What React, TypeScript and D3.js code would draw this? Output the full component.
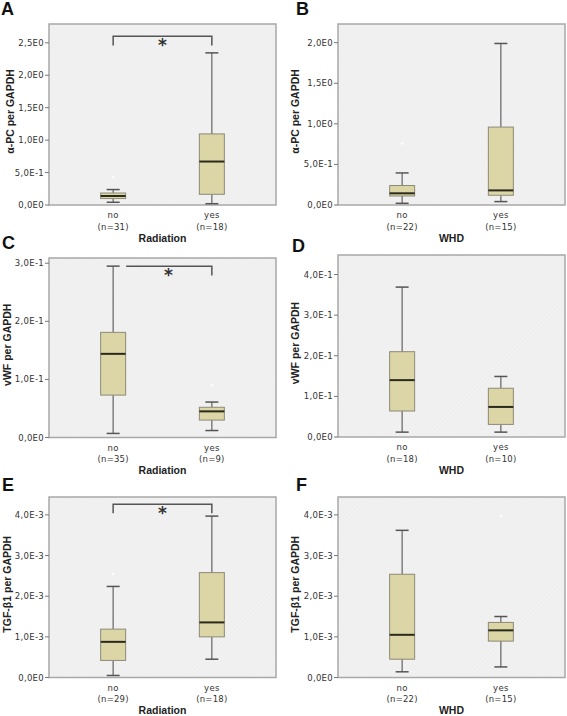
import React from "react";
import * as d3 from "d3";

// ---------- DATA ----------
const groups = ["no", "yes"];

// box stats: [lowWhisker, Q1, median, Q3, highWhisker]
const aNo = [0.042, 0.099, 0.139, 0.185, 0.238];
const aYes = [0.02, 0.165, 0.67, 1.096, 2.345];
const aOutliers = [[0, 0.43]];
const aN = [31, 18];
const aTicks = [0, 0.5, 1.0, 1.5, 2.0, 2.5];
const aTickLabels = ["0,0E0", "5,0E-1", "1,0E0", "1,5E0", "2,0E0", "2,5E0"];

const bNo = [0.021, 0.111, 0.144, 0.24, 0.395];
const bYes = [0.042, 0.12, 0.18, 0.96, 1.99];
const bOutliers = [[0, 0.76]];
const bN = [22, 15];
const bTicks = [0, 0.5, 1.0, 1.5, 2.0];
const bTickLabels = ["0,0E0", "5,0E-1", "1,0E0", "1,5E0", "2,0E0"];

const cNo = [0.007, 0.073, 0.144, 0.181, 0.295];
const cYes = [0.012, 0.03, 0.045, 0.052, 0.061];
const cOutliers = [[1, 0.09]];
const cN = [35, 9];
const cTicks = [0, 0.1, 0.2, 0.3];
const cTickLabels = ["0,0E0", "1,0E-1", "2,0E-1", "3,0E-1"];

const dNo = [0.012, 0.064, 0.14, 0.21, 0.369];
const dYes = [0.012, 0.031, 0.074, 0.12, 0.149];
const dOutliers: number[][] = [];
const dN = [18, 10];
const dTicks = [0, 0.1, 0.2, 0.3, 0.4];
const dTickLabels = ["0,0E0", "1,0E-1", "2,0E-1", "3,0E-1", "4,0E-1"];

const eNo = [0.05, 0.42, 0.877, 1.19, 2.24];
const eYes = [0.45, 1.0, 1.355, 2.58, 3.97];
const eOutliers = [[0, 2.55]];
const eN = [29, 18];
const eTicks = [0, 1, 2, 3, 4];
const eTickLabels = ["0,0E0", "1,0E-3", "2,0E-3", "3,0E-3", "4,0E-3"];

const fNo = [0.14, 0.45, 1.05, 2.54, 3.62];
const fYes = [0.26, 0.895, 1.16, 1.355, 1.5];
const fOutliers = [[1, 3.98]];
const fN = [22, 15];
const fTicks = [0, 1, 2, 3, 4];
const fTickLabels = ["0,0E0", "1,0E-3", "2,0E-3", "3,0E-3", "4,0E-3"];

const letters = ["A", "B", "C", "D", "E", "F"];
const yTitles = ["α-PC per GAPDH", "α-PC per GAPDH", "vWF per GAPDH", "vWF per GAPDH", "TGF-β1 per GAPDH", "TGF-β1 per GAPDH"];
const xTitles = ["Radiation", "WHD", "Radiation", "WHD", "Radiation", "WHD"];

// significance brackets
const brackets = [
  { top: 2.6, tip: 2.46, leftTip: true },
  null,
  { top: 0.295, tip: 0.279, leftTip: false },
  null,
  { top: 4.26, tip: 4.04, leftTip: true },
  null,
];

// ---------- LAYOUT ----------
const frames = [
  { x0: 49, x1: 276, y0: 24, y1: 205, yMax: 2.79 },
  { x0: 338, x1: 565, y0: 24, y1: 205, yMax: 2.23 },
  { x0: 49, x1: 276, y0: 258, y1: 437.5, yMax: 0.309 },
  { x0: 338, x1: 565, y0: 255, y1: 437, yMax: 0.448 },
  { x0: 49, x1: 276, y0: 497, y1: 677.5, yMax: 4.44 },
  { x0: 338, x1: 565, y0: 497, y1: 677.5, yMax: 4.44 },
];
const letterPos = [
  [1, 15], [296, 15], [2, 249], [292, 252], [2, 491], [296, 491],
];
const yTitleX = [10, 295, 7, 295, 7, 295];

const panelData = [
  { stats: [aNo, aYes], outliers: aOutliers, n: aN, ticks: aTicks, tl: aTickLabels },
  { stats: [bNo, bYes], outliers: bOutliers, n: bN, ticks: bTicks, tl: bTickLabels },
  { stats: [cNo, cYes], outliers: cOutliers, n: cN, ticks: cTicks, tl: cTickLabels },
  { stats: [dNo, dYes], outliers: dOutliers, n: dN, ticks: dTicks, tl: dTickLabels },
  { stats: [eNo, eYes], outliers: eOutliers, n: eN, ticks: eTicks, tl: eTickLabels },
  { stats: [fNo, fYes], outliers: fOutliers, n: fN, ticks: fTicks, tl: fTickLabels },
];

const BOX_FILL = "#dcd5a5";
const BOX_STROKE = "#8c8a78";
const WHISKER = "#6e6e6e";
const BOX_W = 25;
const TICK_FONT = "'DejaVu Sans', Verdana, sans-serif";
const TITLE_FONT = "'Liberation Sans', Arial, sans-serif";

function Panel({ i }: { i: number }) {
  const f = frames[i];
  const d = panelData[i];
  const x = d3.scalePoint<string>().domain(groups).range([f.x0, f.x1]).padding(0.65);
  const y = d3.scaleLinear().domain([0, f.yMax]).range([f.y1, f.y0]);
  const br = brackets[i];
  const cx0 = x(groups[0])!;
  const cx1 = x(groups[1])!;
  const [lx, ly] = letterPos[i];
  return (
    <g>
      <text x={lx} y={ly} fontFamily={TITLE_FONT} fontWeight="bold" fontSize={18} fill="#111">
        {letters[i]}
      </text>
      <rect x={f.x0} y={f.y0} width={f.x1 - f.x0} height={f.y1 - f.y0} fill="url(#hatch)" stroke="#a8a8a8" strokeWidth={1.5} />
      {d.ticks.map((t, k) => (
        <g key={k}>
          <line x1={f.x0 - 4} x2={f.x0} y1={y(t)} y2={y(t)} stroke="#777" strokeWidth={1} />
          <text x={f.x0 - 5} y={y(t) + 3} textAnchor="end" fontFamily={TICK_FONT} fontSize={8.5} letterSpacing={0.3} fill="#333">
            {d.tl[k]}
          </text>
        </g>
      ))}
      {groups.map((g, k) => {
        const s = d.stats[k];
        const cx = x(g)!;
        const capW = BOX_W * 0.52;
        return (
          <g key={g}>
            <line x1={cx} x2={cx} y1={y(s[0])} y2={y(s[1])} stroke={WHISKER} strokeWidth={1.3} />
            <line x1={cx} x2={cx} y1={y(s[3])} y2={y(s[4])} stroke={WHISKER} strokeWidth={1.3} />
            <line x1={cx - capW / 2} x2={cx + capW / 2} y1={y(s[0])} y2={y(s[0])} stroke="#555" strokeWidth={1.5} />
            <line x1={cx - capW / 2} x2={cx + capW / 2} y1={y(s[4])} y2={y(s[4])} stroke="#555" strokeWidth={1.5} />
            <rect x={cx - BOX_W / 2} y={y(s[3])} width={BOX_W} height={y(s[1]) - y(s[3])} fill={BOX_FILL} stroke={BOX_STROKE} strokeWidth={1} />
            <line x1={cx - BOX_W / 2} x2={cx + BOX_W / 2} y1={y(s[2])} y2={y(s[2])} stroke="#2a2a1e" strokeWidth={2} />
            <text x={cx} y={f.y1 + 13} textAnchor="middle" fontFamily={TICK_FONT} fontSize={8.5} letterSpacing={0.3} fill="#333">
              {g}
            </text>
            <text x={cx} y={f.y1 + 24.5} textAnchor="middle" fontFamily={TICK_FONT} fontSize={8.5} letterSpacing={0.2} fill="#333">
              {`(n=${d.n[k]})`}
            </text>
          </g>
        );
      })}
      {d.outliers.map((o, k) => (
        <circle key={k} cx={x(groups[o[0]])!} cy={y(o[1])} r={1.5} fill="#fbfbfb" />
      ))}
      {br && (
        <g>
          <path
            d={
              br.leftTip
                ? `M${cx0},${y(br.tip)}V${y(br.top)}H${cx1}V${y(br.tip)}`
                : `M${cx0 + 13},${y(br.top)}H${cx1}V${y(br.tip)}`
            }
            fill="none"
            stroke="#555"
            strokeWidth={1.5}
          />
          <text x={(cx0 + cx1) / 2 + (br.leftTip ? 0 : 6)} y={y(br.top) + 15} textAnchor="middle" fontFamily={TICK_FONT} fontWeight="bold" fontSize={17} fill="#333">
            *
          </text>
        </g>
      )}
      <text
        transform={`translate(${yTitleX[i] + 3.5},${(f.y0 + f.y1) / 2 - 3}) rotate(-90)`}
        textAnchor="middle"
        fontFamily={TITLE_FONT}
        fontWeight="bold"
        fontSize={10.5}
        fill="#222"
      >
        {yTitles[i]}
      </text>
      <text x={(f.x0 + f.x1) / 2} y={f.y1 + 36.5} textAnchor="middle" fontFamily={TITLE_FONT} fontWeight="bold" fontSize={10.5} fill="#222">
        {xTitles[i]}
      </text>
    </g>
  );
}

export default function App() {
  return (
    <svg width={567} height={716} style={{ position: "absolute", left: 0, top: 0, background: "#fff" }}>
      <defs>
        <pattern id="hatch" width={3} height={3} patternUnits="userSpaceOnUse" patternTransform="rotate(45)">
          <rect width={3} height={3} fill="#efefef" />
          <line x1={0} y1={0} x2={0} y2={3} stroke="#f5f5f5" strokeWidth={1} />
        </pattern>
      </defs>
      {letters.map((_, i) => (
        <Panel key={i} i={i} />
      ))}
    </svg>
  );
}
